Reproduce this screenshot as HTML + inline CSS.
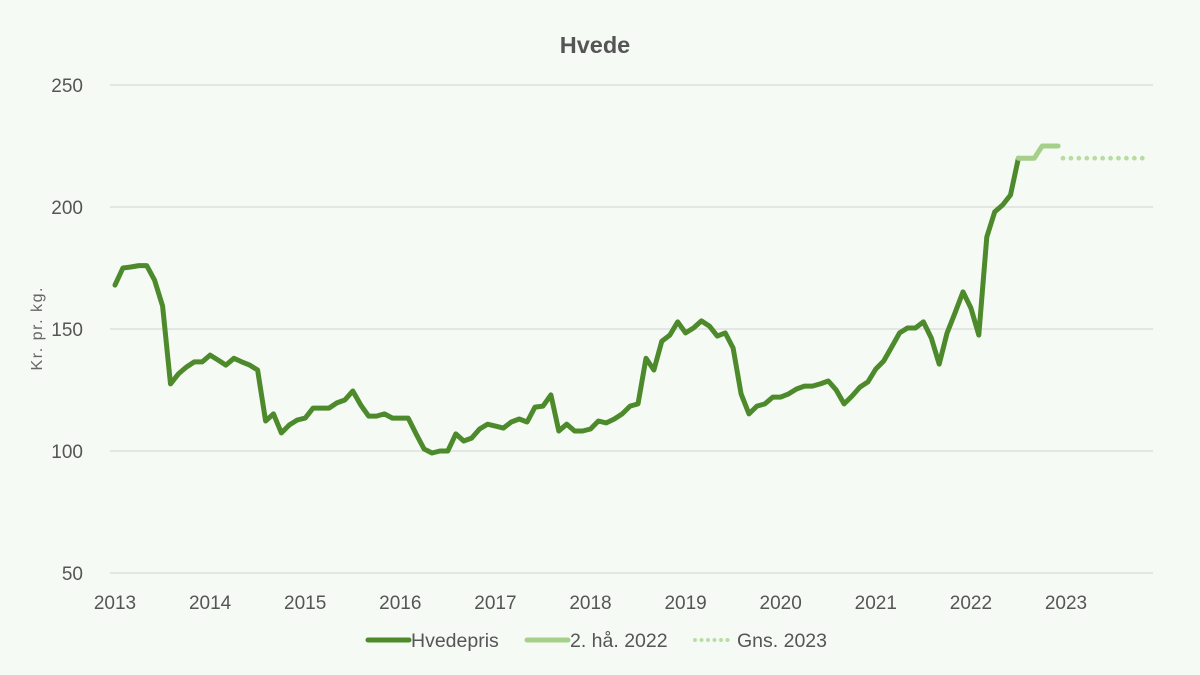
<!DOCTYPE html>
<html><head><meta charset="utf-8"><style>
html,body{margin:0;padding:0;background:#f6faf5;}
svg{display:block;font-family:"Liberation Sans",sans-serif;}
</style></head><body>
<svg id="chart" width="1200" height="675" viewBox="0 0 1200 675">
<rect width="1200" height="675" fill="#f6faf5"/>
<text x="595" y="53" text-anchor="middle" font-size="23.5" font-weight="bold" fill="#555">Hvede</text>
<text transform="translate(42,329) rotate(-90)" text-anchor="middle" font-size="16" fill="#666" textLength="83">Kr. pr. kg.</text>
<g id="grid"></g><g id="yt"></g><g id="xt"></g><g id="series"></g>
<g>
<line x1="368" y1="640" x2="409" y2="640" stroke="#4d8a2c" stroke-width="5" stroke-linecap="round"/>
<text x="411" y="647" font-size="19.5" fill="#555">Hvedepris</text>
<line x1="527" y1="640" x2="568" y2="640" stroke="#a6d08a" stroke-width="5" stroke-linecap="round"/>
<text x="570" y="647" font-size="19.5" fill="#555">2. hå. 2022</text>
<line x1="695" y1="640" x2="734" y2="640" stroke="#b9dca4" stroke-width="4" stroke-linecap="round" stroke-dasharray="0 6.5"/>
<text x="737" y="647" font-size="19.5" fill="#555">Gns. 2023</text>
</g>
</svg>
<script>
const yTicks=[50,100,150,200,250];
const xTickLabels=["2013","2014","2015","2016","2017","2018","2019","2020","2021","2022","2023"];
const hvedepris=[168,175,175.4,176,176,170,159.4,127.5,131.6,134.4,136.5,136.5,139.3,137.3,135.2,138,136.5,135.2,133.2,112.3,115.2,107.4,110.7,112.7,113.5,117.6,117.6,117.6,119.7,120.9,124.6,118.9,114.3,114.3,115.2,113.5,113.5,113.5,107,100.8,99.2,100,100,107,104.1,105.3,109,111,110.2,109.4,111.9,113.1,111.9,118,118.4,123,108.2,111,108.2,108.2,109,112.3,111.5,113.1,115.2,118.4,119.3,138,133.2,145,147.5,152.9,148.4,150.4,153.3,151.2,147.1,148.4,142.2,123.4,115.2,118.4,119.3,122.1,122.1,123.4,125.4,126.6,126.6,127.5,128.7,125,119.3,122.5,126.2,128.3,133.6,136.9,142.6,148.4,150.4,150.4,152.9,146.3,135.6,148.4,156.6,165.2,158.6,147.5,187.7,198,200.8,204.9,220];
const haStart=114;
const ha2022=[220,220,220,225,225,225];
const gnsStart=120;
const gns2023=[220,220,220,220,220,220,220,220,220,220,220];
const NS="http://www.w3.org/2000/svg";
const x0=115,pxMonth=95.1/12;
const X=m=>x0+m*pxMonth;
const Y=v=>573-(v-50)*2.44;
function mk(t,a,p){const e=document.createElementNS(NS,t);for(const k in a)e.setAttribute(k,a[k]);document.getElementById(p).appendChild(e);return e;}
yTicks.forEach(v=>{
 const l=mk("line",{x1:110,x2:1153,y1:Y(v),y2:Y(v),stroke:"#d9d9d9","stroke-width":1.3},"grid");
 
 
 const t=mk("text",{x:83,y:Y(v)+7,"text-anchor":"end","font-size":19,fill:"#555"},"yt");t.textContent=v;
 
 
});
xTickLabels.forEach((s,i)=>{
 const t=mk("text",{x:X(i*12),y:609,"text-anchor":"middle","font-size":19,fill:"#555"},"xt");t.textContent=s;
 
 
});
function path(arr,start){return arr.map((v,i)=>(i?"L":"M")+X(start+i).toFixed(1)+","+Y(v).toFixed(1)).join(" ");}
const p1=mk("path",{d:path(hvedepris,0),fill:"none",stroke:"#4d8a2c","stroke-width":5,"stroke-linejoin":"round","stroke-linecap":"round"},"series");


const p2=mk("path",{d:path(ha2022,haStart),fill:"none",stroke:"#a6d08a","stroke-width":5,"stroke-linejoin":"round","stroke-linecap":"round"},"series");


gns2023.forEach((v,i)=>{
 const c=mk("circle",{cx:X(gnsStart+i)-3,cy:Y(v),r:2.4,fill:"#b9dca4"},"series");
 
 
});
</script>
</body></html>
